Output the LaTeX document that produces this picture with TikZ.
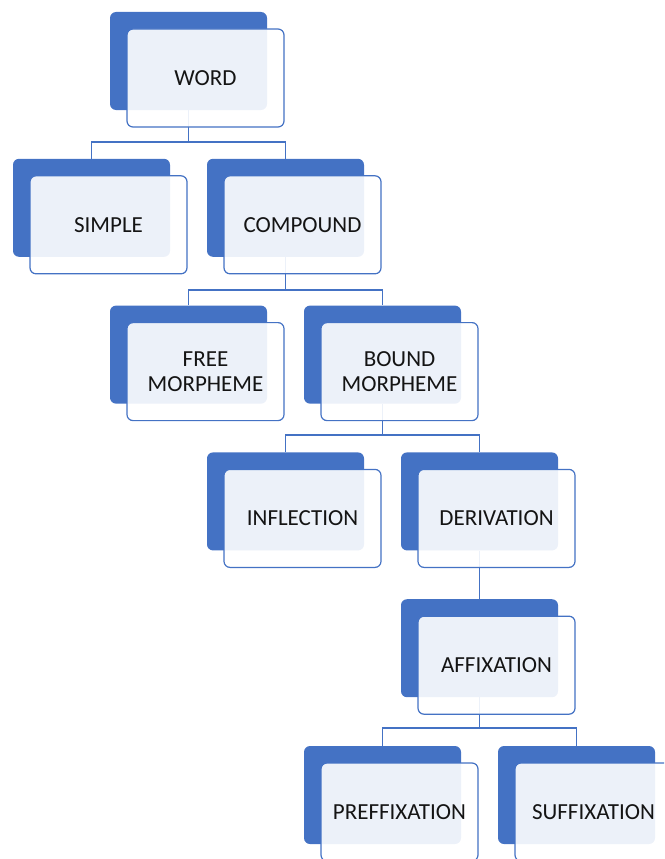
\documentclass[tikz,border=0pt]{standalone}
\usepackage{fontspec}
\setmainfont{Carlito}
\definecolor{accent}{HTML}{4472C4}
\definecolor{txt}{HTML}{141414}
\begin{document}
\begin{tikzpicture}[x=1pt,y=-1pt,
  backbox/.style={rectangle, rounded corners=6pt, fill=accent, draw=none,
    minimum width=157pt, minimum height=98pt, inner sep=0pt},
  frontbox/.style={rectangle, rounded corners=6pt, fill=white, fill opacity=0.9,
    text opacity=1, draw=accent, line width=1.2pt, minimum width=157pt,
    minimum height=98pt, inner sep=0pt, text=txt, align=center,
    font=\fontsize{23}{25}\selectfont},
  conn/.style={draw=accent, line width=1.6pt}]
\useasboundingbox (0,0) rectangle (664,859);
\clip (0,0) rectangle (664,859);
% back boxes: center = (13+97c+78.5, 12+146.8k+49)
\node[backbox] (wordb) at (188.5,61) {};
\node[backbox] (simpleb) at (91.5,207.8) {};
\node[backbox] (compoundb) at (285.5,207.8) {};
\node[backbox] (freeb) at (188.5,354.6) {};
\node[backbox] (boundb) at (382.5,354.6) {};
\node[backbox] (inflb) at (285.5,501.4) {};
\node[backbox] (derivb) at (479.5,501.4) {};
\node[backbox] (affixb) at (479.5,648.2) {};
\node[backbox] (prefb) at (382.5,795) {};
\node[backbox] (suffb) at (576.5,795) {};
% connector levels
\coordinate (h1) at (0,142);
\coordinate (h2) at (0,290);
\coordinate (h3) at (0,435);
\coordinate (h5) at (0,728);
\draw[conn] (wordb.south) -- (wordb.south |- h1);
\draw[conn] (simpleb.north) -- (simpleb.north |- h1) -- (compoundb.north |- h1) -- (compoundb.north);
\draw[conn] (compoundb.south) -- (compoundb.south |- h2);
\draw[conn] (freeb.north) -- (freeb.north |- h2) -- (boundb.north |- h2) -- (boundb.north);
\draw[conn] (boundb.south) -- (boundb.south |- h3);
\draw[conn] (inflb.north) -- (inflb.north |- h3) -- (derivb.north |- h3) -- (derivb.north);
\draw[conn] (derivb.south) -- (affixb.north);
\draw[conn] (affixb.south) -- (affixb.south |- h5);
\draw[conn] (prefb.north) -- (prefb.north |- h5) -- (suffb.north |- h5) -- (suffb.north);
% front boxes, offset (17,17)
\node[frontbox] (word) at (205.5,78) {WORD};
\node[frontbox] (simple) at (108.5,224.8) {SIMPLE};
\node[frontbox] (compound) at (302.5,224.8) {COMPOUND};
\node[frontbox] (free) at (205.5,371.6) {FREE\\MORPHEME};
\node[frontbox] (bound) at (399.5,371.6) {BOUND\\MORPHEME};
\node[frontbox] (infl) at (302.5,518.4) {INFLECTION};
\node[frontbox] (deriv) at (496.5,518.4) {DERIVATION};
\node[frontbox] (affix) at (496.5,665.2) {AFFIXATION};
\node[frontbox] (pref) at (399.5,812) {PREFFIXATION};
\node[frontbox] (suff) at (593.5,812) {SUFFIXATION};
\end{tikzpicture}
\end{document}
